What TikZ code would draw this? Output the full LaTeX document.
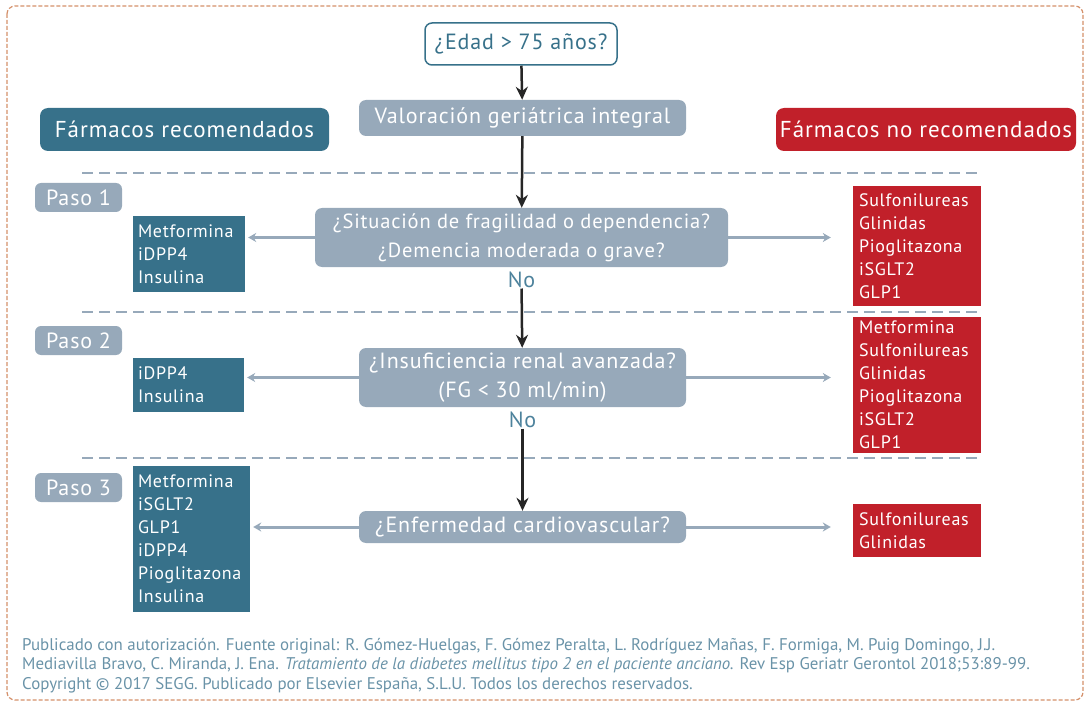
\documentclass[tikz,border=0pt]{standalone}
\usepackage{fontspec}
\setmainfont{PT Sans}[LetterSpace=4]
\newfontfamily\srcfont{PT Sans}
\usetikzlibrary{arrows.meta,positioning}
\definecolor{tealc}{HTML}{37718A}
\definecolor{grayc}{HTML}{97A9BA}
\definecolor{redc}{HTML}{C1202A}
\definecolor{framec}{HTML}{D4906A}
\definecolor{notec}{HTML}{6A93A8}
\definecolor{nolblc}{HTML}{4D829C}

\begin{document}
\begin{tikzpicture}[x=1pt,y=-1pt,
  question/.style={fill=grayc, text=white, rounded corners=7pt, align=center, inner sep=0pt, font=\fontsize{22}{29}\selectfont},
  okbox/.style={fill=tealc, text=white, align=left, inner xsep=5pt, inner ysep=0pt, font=\fontsize{18}{23}\selectfont},
  nobox/.style={fill=redc, text=white, align=left, inner xsep=6pt, inner ysep=0pt, font=\fontsize{18}{23}\selectfont},
  paso/.style={fill=grayc, text=white, rounded corners=6pt, minimum width=87pt, minimum height=29pt, inner sep=0pt, font=\fontsize{22}{22}\selectfont},
  header/.style={text=white, rounded corners=8pt, minimum height=43pt, inner sep=0pt, font=\fontsize{23}{23}\selectfont},
  nolbl/.style={text=nolblc, inner sep=1pt, font=\fontsize{22}{22}\selectfont},
  flow/.style={line width=2.5pt, black!85, -{Stealth[length=13pt,width=12pt]}},
  side/.style={line width=3pt, grayc, -{Stealth[length=8pt,width=9pt]}},
  sep/.style={grayc, line width=2.5pt, dash pattern=on 11pt off 6pt}
]
\useasboundingbox (0,0) rectangle (1088,706);

% Frame
\draw[framec, line width=1.2pt, dash pattern=on 4pt off 2pt, rounded corners=8pt] (7,6) rectangle (1083,700);

% Separators
\draw[sep] (82,173) -- (983,173);
\draw[sep] (82,312) -- (983,312);
\draw[sep] (82,458) -- (983,458);

% Headers
\node[header, fill=tealc, minimum width=289pt] (hok) at (184.5,129.5) {Fármacos recomendados};
\node[header, fill=redc, minimum width=300pt] (hno) at (926,129.5) {Fármacos no recomendados};

% Steps
\node[paso] (p1) at (78.5,197.5) {Paso 1};
\node[paso] (p2) at (78.5,340.5) {Paso 2};
\node[paso] (p3) at (78.5,487.5) {Paso 3};

% Main flow
\node[question, fill=white, draw=tealc, line width=1.5pt, text=tealc, minimum width=192pt, minimum height=42pt] (age) at (521,44) {¿Edad > 75 años?};
\node[question, minimum width=327pt, minimum height=36pt] (valor) at (522.5,118) {Valoración geriátrica integral};
\node[question, minimum width=413pt, minimum height=59pt, font=\fontsize{20.5}{29}\selectfont] (q1) at (521.5,237.5) {¿Situación de fragilidad o dependencia?\\¿Demencia moderada o grave?};
\node[nolbl, below=3pt of q1] (n1) {No};
\node[question, minimum width=327pt, minimum height=59pt] (q2) at (522.5,377.5) {¿Insuficiencia renal avanzada?\\(FG < 30 ml/min)};
\node[nolbl, below=3pt of q2] (n2) {No};
\node[question, minimum width=327pt, minimum height=32pt] (q3) at (522.5,527) {¿Enfermedad cardiovascular?};

% Recommended drugs
\node[okbox, text width=102pt, minimum height=76pt] (ok1) at (189,254) {Metformina\\iDPP4\\Insulina};
\node[okbox, text width=101pt, minimum height=54pt] (ok2) at (188.5,385) {iDPP4\\Insulina};
\node[okbox, text width=107pt, minimum height=146pt] (ok3) at (191.5,539) {Metformina\\iSGLT2\\GLP1\\iDPP4\\Pioglitazona\\Insulina};

% Not recommended drugs
\node[nobox, text width=116pt, minimum height=120pt] (no1) at (917,246) {Sulfonilureas\\Glinidas\\Pioglitazona\\iSGLT2\\GLP1};
\node[nobox, text width=116pt, minimum height=136pt] (no2) at (917,385) {Metformina\\Sulfonilureas\\Glinidas\\Pioglitazona\\iSGLT2\\GLP1};
\node[nobox, text width=116pt, minimum height=53pt] (no3) at (917,530.5) {Sulfonilureas\\Glinidas};

% Arrows
\draw[flow] (age) -- (valor);
\draw[flow] (valor) -- (q1);
\draw[flow] (n1) -- (q2);
\draw[flow] (n2) -- (q3);

\draw[side, shorten >=3pt] (q1.west) -- (q1.west -| ok1.east);
\draw[side, shorten >=3pt] (q2.west) -- (q2.west -| ok2.east);
\draw[side, shorten >=3pt] (q3.west) -- (q3.west -| ok3.east);
\draw[side, shorten >=22pt] (q1.east) -- (q1.east -| no1.west);
\draw[side, shorten >=22pt] (q2.east) -- (q2.east -| no2.west);
\draw[side, shorten >=22pt] (q3.east) -- (q3.east -| no3.west);

% Source
\node[anchor=north west, align=left, text=notec, inner sep=0pt, font=\srcfont\fontsize{16.9}{19.5}\selectfont] (src) at (22,638)
  {Publicado con autorización. Fuente original: R. Gómez-Huelgas, F. Gómez Peralta, L. Rodríguez Mañas, F. Formiga, M. Puig Domingo, J.J.\\
   Mediavilla Bravo, C. Miranda, J. Ena. \textit{Tratamiento de la diabetes mellitus tipo 2 en el paciente anciano.} Rev Esp Geriatr Gerontol 2018;53:89-99.\\
   Copyright © 2017 SEGG. Publicado por Elsevier España, S.L.U. Todos los derechos reservados.};
\end{tikzpicture}
\end{document}
